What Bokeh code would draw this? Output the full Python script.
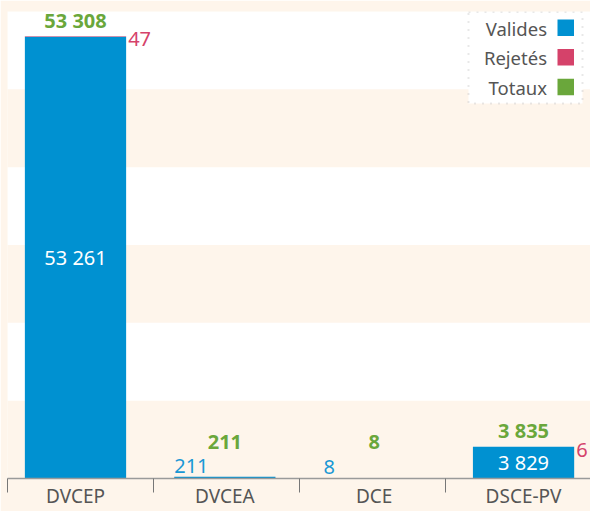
from bokeh.plotting import figure
from bokeh.models import ColumnDataSource, FixedTicker, BoxAnnotation, Label, Range1d
from bokeh.core.properties import value
from bokeh.embed import file_html
from bokeh.resources import INLINE

# ---- data ----
categories = ["DVCEP", "DVCEA", "DCE", "DSCE-PV"]
valides = [53261, 211, 8, 3829]
rejetes = [47, 0, 0, 6]
totaux = [53308, 211, 8, 3835]
legend_labels = ["Valides", "Rejetés", "Totaux"]

# ---- style ----
BLUE = "#0091d1"
RED = "#d5426a"
GREEN = "#6aa73b"
CREAM = "#fef5eb"
GREY_TXT = "#555555"
FONT = "Noto Sans"

FW, FH = 583, 467
PX_PER_X = 149.35
X_START = -68 / PX_PER_X
X_END = X_START + FW / PX_PER_X
Y_END = 56300
PX_PER_Y = FH / Y_END
BAR_W = 0.678


def fmt(n):
    return f"{n:,}".replace(",", " ")


def fx(px):
    return X_START + px / PX_PER_X


def fy(py):
    return Y_END - py / PX_PER_Y


xs = list(range(len(categories)))
src = ColumnDataSource(dict(x=xs, valides=valides, rejetes=rejetes))

p = figure(
    x_range=Range1d(X_START, X_END),
    y_range=Range1d(0, Y_END),
    frame_width=FW,
    frame_height=FH,
    output_backend="svg",
    toolbar_location=None,
    min_border_left=7,
    min_border_right=0,
    min_border_top=11,
    min_border_bottom=0,
    background_fill_color=CREAM,
    border_fill_color=CREAM,
    outline_line_color=None,
)

# alternating bands
p.yaxis.visible = False
p.xgrid.visible = False
p.ygrid.ticker = FixedTicker(ticks=[Y_END * k / 6 for k in range(7)])
p.ygrid.grid_line_color = None
p.ygrid.band_fill_color = "white"
p.ygrid.band_fill_alpha = 1.0

# bars
p.vbar_stack(["valides", "rejetes"], x="x", width=BAR_W, color=[BLUE, RED],
             line_color=None, source=src)

# total labels (green)
thr = 21 / PX_PER_Y
gsrc = ColumnDataSource(dict(x=xs, y=[max(t, thr) for t in totaux],
                             t=[fmt(t) for t in totaux]))
p.text(x="x", y="y", text="t", source=gsrc, text_align="center",
       text_baseline="middle", y_offset=-16, text_font=value(FONT),
       text_font_style="bold", text_font_size="20px", text_color=GREEN)

# valid labels
ins_x, ins_y, ins_t, out_x, out_y, out_t = [], [], [], [], [], []
for i, v in enumerate(valides):
    if v * PX_PER_Y > 27:
        ins_x.append(i); ins_y.append(v / 2); ins_t.append(fmt(v))
    else:
        out_x.append(i - BAR_W / 2); out_y.append(v); out_t.append(fmt(v))
p.text(x="x", y="y", text="t", source=ColumnDataSource(dict(x=ins_x, y=ins_y, t=ins_t)),
       text_align="center", text_baseline="middle", text_font=value(FONT),
       text_font_size="20px", text_color="white")
p.text(x="x", y="y", text="t", source=ColumnDataSource(dict(x=out_x, y=out_y, t=out_t)),
       text_align="left", text_baseline="middle", y_offset=-11, text_font=value(FONT),
       text_font_size="20px", text_color="#1a98d5")

# rejected labels
rx, ry, rt = [], [], []
for i, (r, t) in enumerate(zip(rejetes, totaux)):
    if r > 0:
        rx.append(i + BAR_W / 2); ry.append(t); rt.append(fmt(r))
p.text(x="x", y="y", text="t", source=ColumnDataSource(dict(x=rx, y=ry, t=rt)),
       text_align="left", text_baseline="middle", x_offset=2, y_offset=3,
       text_font=value(FONT), text_font_size="20px", text_color=RED)

# x axis
boundaries = [X_START + 0.001 + k * 0.978 for k in range(len(categories))]
ax = p.xaxis[0]
ax.ticker = FixedTicker(ticks=xs, minor_ticks=boundaries)
ax.major_label_overrides = {i: c for i, c in enumerate(categories)}
ax.axis_line_color = "#9a9a9a"
ax.axis_line_width = 1.5
ax.major_tick_line_color = None
ax.major_tick_out = 0
ax.major_tick_in = 0
ax.minor_tick_out = 14
ax.minor_tick_in = 0
ax.minor_tick_line_color = "#777777"
ax.minor_tick_line_width = 1
ax.major_label_text_font = FONT
ax.major_label_text_font_size = "19px"
ax.major_label_text_color = GREY_TXT
ax.major_label_standoff = -10

# legend (custom: label then square on the right)
p.add_layout(BoxAnnotation(left=fx(461), right=fx(575), top=fy(0.5), bottom=fy(92),
                           fill_color="white", fill_alpha=1.0, line_color="#b3b3b3",
                           line_dash="2 6", line_width=2))
for k, (lab, col) in enumerate(zip(legend_labels, [BLUE, RED, GREEN])):
    top = 8 + k * 29.6
    p.add_layout(BoxAnnotation(left=fx(550), right=fx(566.5), top=fy(top),
                               bottom=fy(top + 16.5), fill_color=col, fill_alpha=1.0,
                               line_color=None))
    p.add_layout(Label(x=fx(539.5), y=fy(top + 8.5), text=lab, text_align="right",
                       text_baseline="middle", text_font=FONT, text_font_size="18.5px",
                       text_color=GREY_TXT))

open("out.html", "w").write(file_html(p, INLINE))
